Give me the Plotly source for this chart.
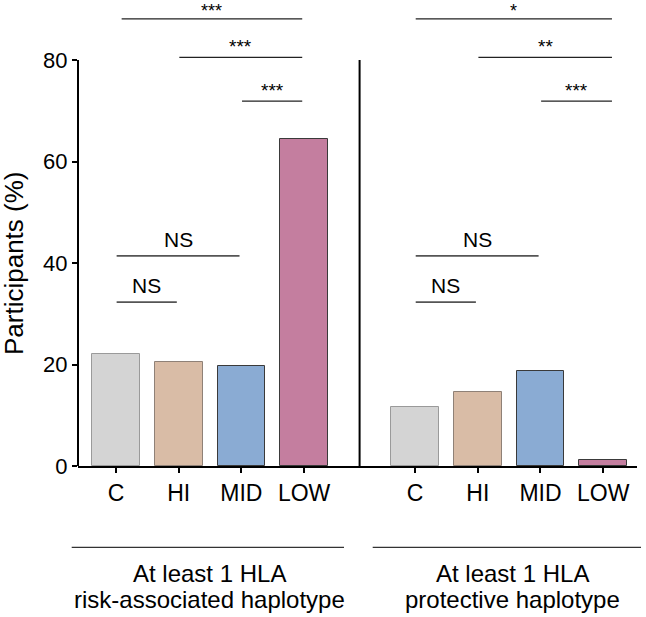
import plotly.graph_objects as go

# ---- data ----
categories = ["C", "HI", "MID", "LOW"]
risk_values = [22.1, 20.4, 19.8, 64.4]
protective_values = [11.6, 14.6, 18.7, 1.2]
bar_colors = ["#d4d4d4", "#d9bca6", "#8aabd3", "#c47e9f"]
bar_edges = ["#9a9a9a", "#8f8177", "#3a3a3a", "#3a3a3a"]
group_line1 = ["At least 1 HLA", "At least 1 HLA"]
group_line2 = ["risk-associated haplotype", "protective haplotype"]
y_ticks = [0, 20, 40, 60, 80]
# significance brackets: (group, from_idx, to_idx, y, label, kind)
brackets = [
    (0, 0, 3, 88.1, "***", "star"),
    (0, 1, 3, 80.5, "***", "star"),
    (0, 2, 3, 71.9, "***", "star"),
    (0, 0, 2, 41.4, "NS", "ns"),
    (0, 0, 1, 32.3, "NS", "ns"),
    (1, 0, 3, 88.1, "*", "star"),
    (1, 1, 3, 80.5, "**", "star"),
    (1, 2, 3, 71.9, "***", "star"),
    (1, 0, 2, 41.4, "NS", "ns"),
    (1, 0, 1, 32.3, "NS", "ns"),
]

GAP = 4.77
FONT = "Arial, Liberation Sans, sans-serif"
pos = [[i for i in range(4)], [i + GAP for i in range(4)]]

fig = go.Figure()
for g, vals in enumerate([risk_values, protective_values]):
    fig.add_trace(go.Bar(
        x=pos[g], y=vals, width=0.76,
        marker=dict(color=bar_colors, line=dict(color=bar_edges, width=1)),
        showlegend=False, hoverinfo="skip"))

# brackets
for g, a, b, y, lab, kind in brackets:
    x0 = pos[g][a] + (0.09 if g == 0 and a == 0 and kind == "star" else 0.01)
    x1 = pos[g][b] - 0.03 if g == 0 else pos[g][b] + 0.14
    if kind == "ns":
        x1 = pos[g][b] - 0.03
    fig.add_shape(type="line", xref="x", yref="y", x0=x0, x1=x1, y0=y, y1=y,
                  line=dict(color="#222" if kind == "star" else "#555",
                            width=1.3 if kind == "star" else 1.6))
    top = (y == 88.1)
    fig.add_annotation(x=(x0 + x1) / 2, y=y, text=lab, showarrow=False,
                       xref="x", yref="y", yanchor="bottom",
                       yshift=(-4 if top else -2) if kind == "star" else 3,
                       font=dict(family=FONT, size=(18 if top else 19) if kind == "star" else 21,
                                 color="black"))

# y axis line (0..80) and divider
fig.add_shape(type="line", xref="paper", yref="y", x0=0, x1=0, y0=0, y1=80,
              line=dict(color="black", width=2))
fig.add_shape(type="line", xref="x", yref="y", x0=(3 + GAP) / 2, x1=(3 + GAP) / 2,
              y0=0, y1=80, line=dict(color="black", width=2))

# group labels and underlines
W, H = 646, 617
ml, mr, mt, mb = 78, 9, 0, 151
pw, ph = W - ml - mr, H - mt - mb
def px_to_paper_x(px):
    return (px - ml) / pw
def py_to_paper_y(py):
    return 1 - (py - mt) / ph

line_spans = [(71.7, 344), (372.7, 641)]
label_centers = [209.3, 512]
for g in range(2):
    fig.add_shape(type="line", xref="paper", yref="paper",
                  x0=px_to_paper_x(line_spans[g][0]), x1=px_to_paper_x(line_spans[g][1]),
                  y0=py_to_paper_y(547.3), y1=py_to_paper_y(547.3),
                  line=dict(color="#333", width=1.2))
    for txt, py in ((group_line1[g], 573), (group_line2[g], 599)):
        fig.add_annotation(xref="paper", yref="paper", x=px_to_paper_x(label_centers[g]),
                           y=py_to_paper_y(py), yanchor="middle", xanchor="center",
                           text=txt, showarrow=False, align="center",
                           font=dict(family=FONT, size=24, color="black"))

# y title
fig.add_annotation(xref="paper", yref="y", x=px_to_paper_x(14), y=40,
                   text="Participants (%)", textangle=-90, showarrow=False,
                   xanchor="center", yanchor="middle",
                   font=dict(family=FONT, size=26, color="black"))

x_range = [(ml - 116) / 62.7, (W - mr - 116) / 62.7]
fig.update_layout(
    width=W, height=H,
    margin=dict(l=ml, r=mr, t=mt, b=mb, pad=0),
    plot_bgcolor="white", paper_bgcolor="white",
    bargap=0,
    xaxis=dict(range=x_range, tickvals=pos[0] + pos[1], ticktext=categories * 2,
               showline=True, linecolor="black", linewidth=2, ticks="outside",
               ticklen=5, tickwidth=2, tickcolor="black", showgrid=False,
               zeroline=False, tickfont=dict(family=FONT, size=23, color="black")),
    yaxis=dict(range=[0, 466 / 5.075], tickvals=y_ticks, showline=False,
               ticks="outside", ticklen=5, tickwidth=2, tickcolor="black",
               showgrid=False, zeroline=False,
               tickfont=dict(family=FONT, size=22, color="black")),
)

fig.write_html("out.html")
